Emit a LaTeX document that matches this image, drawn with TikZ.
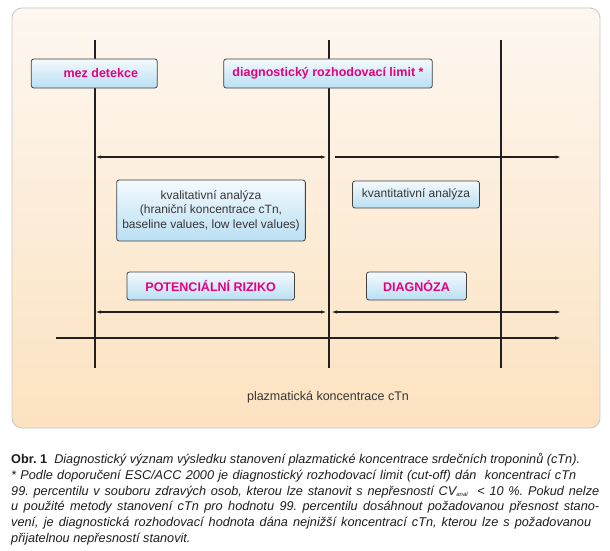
\documentclass[tikz,border=0pt]{standalone}
\usepackage{fontspec}
\setmainfont{Liberation Sans}
\usetikzlibrary{arrows.meta}
\definecolor{mag}{HTML}{E5007D}
\definecolor{ink}{HTML}{231F20}
\definecolor{boxtop}{HTML}{F4FAFD}
\definecolor{boxbot}{HTML}{B9DFF3}
\definecolor{pantop}{HTML}{FDF7F0}
\definecolor{panbot}{HTML}{FCE2C0}
\definecolor{capink}{HTML}{1E1E1E}
\tikzset{
  x=1pt, y=-1pt,
  bluebox/.style={draw=ink!85, line width=0.8pt, rounded corners=2.5pt,
    top color=boxtop, bottom color=boxbot, inner sep=0pt, align=center},
  magtext/.style={font=\fontsize{12.5}{14}\selectfont\bfseries, text=mag},
  plaintext/.style={font=\fontsize{12}{14.5}\selectfont, text=ink!90},
  vline/.style={draw=ink, line width=1.8pt},
  dimarrow/.style={draw=ink, line width=1.1pt, {Latex[length=6pt,width=3.2pt]}-{Latex[length=6pt,width=3.2pt]}},
  onearrow/.style={draw=ink, line width=1.1pt, -{Latex[length=6pt,width=3.2pt]}},
  axisarrow/.style={draw=ink, line width=1.8pt, -{Latex[length=7pt,width=3.5pt]}},
  capline/.style={anchor=base west, inner sep=0pt, text=capink, font=\fontsize{12.7}{14}\selectfont\itshape\frenchspacing},
}
\begin{document}
\begin{tikzpicture}
\useasboundingbox (0,0) rectangle (610,551);
\fill[white] (0,0) rectangle (610,551);
% panel
\node[draw=black!22, line width=0.8pt, rounded corners=10pt, top color=pantop, bottom color=panbot,
  minimum width=588pt, minimum height=420pt, inner sep=0pt] (panel) at (306,218) {};
% vertical lines
\coordinate (v1t) at (95,40); \coordinate (v1b) at (95,368);
\coordinate (v2t) at (329,40); \coordinate (v2b) at (329,368);
\coordinate (v3t) at (501,40); \coordinate (v3b) at (501,368);
\draw[vline] (v1t) -- (v1b);
\draw[vline] (v2t) -- (v2b);
\draw[vline] (v3t) -- (v3b);
% top boxes
\node[bluebox, magtext, minimum width=126pt, minimum height=29pt] (mez) at (94.3,73.5) {\hspace*{13pt}mez detekce};
\node[bluebox, magtext, minimum width=208.6pt, minimum height=29pt] (diag) at (328,73.5) {diagnostický rozhodovací limit *};
% arrow row 1
\coordinate (a1l) at (95,157); \coordinate (a1r) at (327,157);
\coordinate (a2l) at (334.6,157); \coordinate (a2r) at (561.5,157);
\draw[dimarrow] (a1l) -- (a1r);
\draw[onearrow] (a2l) -- (a2r);
% middle boxes
\node[bluebox, plaintext, minimum width=188.7pt, minimum height=61pt] (kval) at (211,210.5)
  {kvalitativní analýza\\(hraniční koncentrace cTn,\\baseline values, low level values)};
\node[bluebox, plaintext, minimum width=127pt, minimum height=27pt] (kvant) at (416,194.5) {kvantitativní analýza};
% lower boxes
\node[bluebox, magtext, minimum width=167.5pt, minimum height=28pt] (riz) at (210.7,286) {POTENCIÁLNÍ RIZIKO};
\node[bluebox, magtext, minimum width=100pt, minimum height=28pt] (dgn) at (416.5,286) {DIAGNÓZA};
% arrow row 2
\coordinate (b1l) at (95,312); \coordinate (b1r) at (327,312);
\coordinate (b2l) at (331,312); \coordinate (b2r) at (561.5,312);
\draw[dimarrow] (b1l) -- (b1r);
\draw[dimarrow] (b2l) -- (b2r);
% axis
\coordinate (ax0) at (56,338); \coordinate (ax1) at (562,338);
\draw[axisarrow] (ax0) -- (ax1);
\node[plaintext, font=\fontsize{12.5}{14.5}\selectfont] (lbl) at (328,397) {plazmatická koncentrace cTn};
% caption
\node[capline] (c1) at (11,463.5) {{\upshape\bfseries Obr. 1}\ \ Diagnostický význam výsledku stanovení plazmatické koncentrace srdečních troponinů (cTn).};
\node[capline] (c2) at (11,479.3) {\makebox[565pt][s]{* Podle doporučení ESC/ACC 2000 je diagnostický rozhodovací limit (cut-off) dán\ \ koncentrací cTn}};
\node[capline] (c3) at (11,495.1) {\makebox[588pt][s]{99. percentilu v souboru zdravých osob, kterou lze stanovit s nepřesností CV{\fontsize{6}{6}\selectfont\raisebox{-1pt}{anal}}\ \ < 10 \%. Pokud nelze}};
\node[capline] (c4) at (11,510.9) {\makebox[588pt][s]{u použité metody stanovení cTn pro hodnotu 99. percentilu dosáhnout požadovanou přesnost stano-}};
\node[capline] (c5) at (11,526.7) {\makebox[580pt][s]{vení, je diagnostická rozhodovací hodnota dána nejnižší koncentrací cTn, kterou lze s požadovanou}};
\node[capline] (c6) at (11,542.5) {přijatelnou nepřesností stanovit.};
\end{tikzpicture}
\end{document}
